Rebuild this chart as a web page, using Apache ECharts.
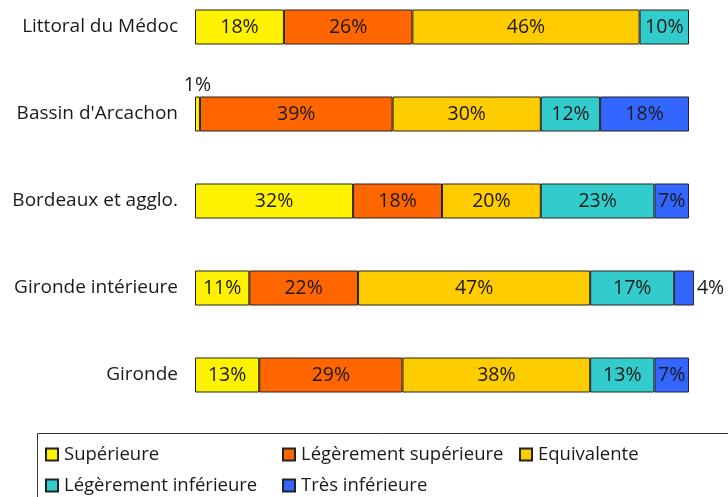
<!DOCTYPE html>
<html>
<head>
<meta charset="utf-8">
<script src="https://cdn.jsdelivr.net/npm/echarts@6/dist/echarts.min.js"></script>
<style>html,body{margin:0;padding:0;background:#fff;}#c{width:728px;height:497px;}</style>
</head>
<body>
<div id="c"></div>
<script>
var categories = ["Littoral du Médoc", "Bassin d'Arcachon", "Bordeaux et agglo.", "Gironde intérieure", "Gironde"];
var seriesNames = ["Supérieure", "Légèrement supérieure", "Equivalente", "Légèrement inférieure", "Très inférieure"];
var superieure = [18, 1, 32, 11, 13];
var legSuperieure = [26, 39, 18, 22, 29];
var equivalente = [46, 30, 20, 47, 38];
var legInferieure = [10, 12, 23, 17, 13];
var tresInferieure = [null, 18, 7, 4, 7];

var values = [superieure, legSuperieure, equivalente, legInferieure, tresInferieure];
var colors = ['#FFF200', '#FF6600', '#FFCC00', '#33CCCC', '#3366FF'];

var labelFont = "'Open Sans', sans-serif";

function buildData(si) {
  return values[si].map(function (v, ci) {
    var d = { value: v };
    if (si === 0 && ci === 1) d.label = { position: 'top', distance: 1 };
    if (si === 4 && ci === 3) d.label = { position: 'right', distance: 3 };
    return d;
  });
}

var series = seriesNames.map(function (name, si) {
  return {
    name: name,
    type: 'bar',
    stack: 'total',
    barWidth: 35,
    clip: false,
    data: buildData(si),
    itemStyle: { color: colors[si], borderColor: '#222', borderWidth: 1 },
    label: {
      show: true,
      position: 'inside',
      color: '#1a1a1a',
      fontSize: 19.5,
      fontFamily: labelFont,
      formatter: function (p) { return p.value == null ? '' : p.value + '%'; }
    },
    emphasis: { disabled: true }
  };
});

var legendPos = [
  { left: 45, top: 445 },
  { left: 282, top: 445 },
  { left: 519, top: 445 },
  { left: 45, top: 476 },
  { left: 282, top: 476 }
];
var legends = seriesNames.map(function (name, i) {
  return {
    data: [name],
    left: legendPos[i].left,
    top: legendPos[i].top,
    padding: 0,
    itemWidth: 12,
    itemHeight: 12,
    itemGap: 4,
    icon: 'rect',
    selectedMode: false,
    textStyle: { fontSize: 18.5, color: '#1a1a1a', fontFamily: labelFont, padding: [0, 0, 0, 1] }
  };
});

var chart = echarts.init(document.getElementById('c'), null, { renderer: 'canvas' });
chart.setOption({
  animation: false,
  backgroundColor: '#fff',
  grid: { left: 195, top: 27, width: 494, height: 348, containLabel: false },
  xAxis: {
    type: 'value', min: 0, max: 100,
    show: false
  },
  yAxis: {
    type: 'category',
    data: categories,
    inverse: true,
    boundaryGap: false,
    axisLine: { show: false },
    axisTick: { show: false },
    splitLine: { show: false },
    axisLabel: { margin: 17, fontSize: 19, color: '#1a1a1a', fontFamily: labelFont }
  },
  legend: legends,
  graphic: [{
    type: 'rect',
    shape: { x: 37.5, y: 433.5, width: 800, height: 100 },
    style: { fill: 'none', stroke: '#333', lineWidth: 1 },
    silent: true
  }],
  series: series
});
</script>
</body>
</html>
